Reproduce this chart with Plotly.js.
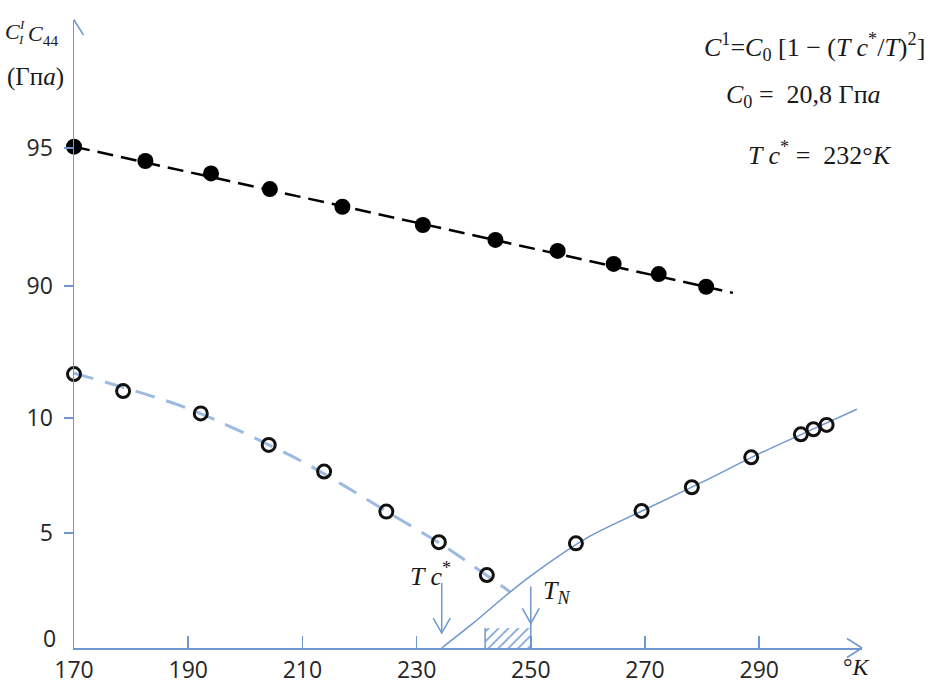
<!DOCTYPE html>
<html><head><meta charset="utf-8">
<script src="https://cdn.plot.ly/plotly-3.0.1.min.js"></script>
<style>html,body{margin:0;padding:0;background:#fff}#chart{width:930px;height:684px}</style>
</head><body><div id="chart"></div>
<script>
// ---------- data ----------
const upperT = [170, 182.5, 194.0, 204.3, 217.0, 231.1, 243.8, 254.7, 264.5, 272.4, 280.7];
const upperC = [95.05, 94.53, 94.08, 93.51, 92.87, 92.21, 91.67, 91.27, 90.80, 90.43, 89.97];
const upperFitT = [170, 285.4];
const upperFitC = [95.05, 89.75];
const lowT = [170, 178.6, 192.2, 204.1, 213.8, 224.7, 233.9, 242.3];
const lowC = [11.91, 11.17, 10.20, 8.83, 7.67, 5.93, 4.60, 3.17];
const lowFitT = [170, 190, 210, 225, 235, 246.3];
const lowFitC = [11.95, 10.41, 8.10, 5.90, 4.40, 2.45];
const highT = [257.9, 269.4, 278.2, 288.6, 297.3, 299.5, 301.8];
const highC = [4.55, 5.96, 6.99, 8.29, 9.29, 9.51, 9.70];
const curveT = [234.4, 240, 246.3, 250, 260, 270, 280, 290, 300, 307.1];
const curveC = [0, 1.1, 2.42, 3.14, 4.81, 6.02, 7.21, 8.45, 9.58, 10.38];
const xTicks = [170, 190, 210, 230, 250, 270, 290];
const yLowTicks = [5, 10];
const yHighTicks = [90, 95];
const tcStarT = 234.4;
const tnT = 250;
const hatchT = [242, 250];
const hatchTop = 0.87;

// ---------- styling / layout ----------
const AX = '#6e98cf';
const TXT = '#1a1a1a';
const SERIF = 'Liberation Serif, DejaVu Serif, serif';
const SANS = 'Open Sans, sans-serif';
const ML = 74, MR = 68, MT = 20, MB = 36, FW = 930, FH = 684;
const PW = FW - ML - MR, PH = FH - MT - MB;
const px = v => (v - ML) / PW;
const py = v => (FH - MB - v) / PH;

const traces = [
  {x: [(hatchT[0] + hatchT[1]) / 2], y: [hatchTop], width: [hatchT[1] - hatchT[0]],
   type: 'bar', xaxis: 'x', yaxis: 'y', hoverinfo: 'skip',
   marker: {color: 'rgba(255,255,255,0)', line: {width: 0},
            pattern: {shape: '/', fgcolor: AX, bgcolor: 'rgba(255,255,255,0)', size: 7, solidity: 0.22, fillmode: 'replace'}}},
  {x: upperFitT, y: upperFitC, yaxis: 'y2', mode: 'lines', cliponaxis: false,
   line: {color: '#000', width: 2.5, dash: '16px,8px'}},
  {x: lowFitT, y: lowFitC, yaxis: 'y', mode: 'lines', cliponaxis: false,
   line: {color: '#9dbae0', width: 3, dash: '20px,12px', shape: 'spline', smoothing: 0.8}},
  {x: curveT, y: curveC, yaxis: 'y', mode: 'lines', cliponaxis: false,
   line: {color: AX, width: 1.5, shape: 'spline', smoothing: 0.8}},
  {x: upperT, y: upperC, yaxis: 'y2', mode: 'markers', cliponaxis: false,
   marker: {color: '#000', size: 16, symbol: 'circle'}},
  {x: lowT, y: lowC, yaxis: 'y', mode: 'markers', cliponaxis: false,
   marker: {color: '#111', size: 13, symbol: 'circle-open', line: {width: 3, color: '#111'}}},
  {x: highT, y: highC, yaxis: 'y', mode: 'markers', cliponaxis: false,
   marker: {color: '#111', size: 13, symbol: 'circle-open', line: {width: 3, color: '#111'}}}
];

const lowDom = [0, 0.4904], highDom = [0.4904, 1];
const lowRange = [0, 13.39], highRange = [88.04, 99.64];
const tickFont = {family: SANS, size: 23, color: '#262626'};

const layout = {
  width: FW, height: FH,
  margin: {l: ML, r: MR, t: MT, b: MB},
  paper_bgcolor: '#fff', plot_bgcolor: '#fff',
  showlegend: false, bargap: 0,
  xaxis: {range: [170, 308], tickvals: xTicks, ticktext: xTicks.map(String),
          ticks: 'inside', ticklen: 12, tickwidth: 1.5, tickcolor: AX,
          showline: true, linecolor: AX, linewidth: 1.5, showgrid: false, zeroline: false,
          tickfont: tickFont, anchor: 'y', ticklabelstandoff: 1},
  yaxis: {domain: lowDom, range: lowRange, tickvals: yLowTicks, ticks: 'outside', ticklen: 9,
          tickwidth: 1.5, tickcolor: AX, showline: true, linecolor: AX, linewidth: 1.5,
          showgrid: false, zeroline: false, tickfont: tickFont, anchor: 'x', ticklabelstandoff: 6},
  yaxis2: {domain: highDom, range: highRange, tickvals: yHighTicks, ticks: 'outside', ticklen: 9,
          tickwidth: 1.5, tickcolor: AX, showline: true, linecolor: AX, linewidth: 1.5,
          showgrid: false, zeroline: false, tickfont: tickFont, anchor: 'x', ticklabelstandoff: 6},
  yaxis3: {overlaying: 'y', range: lowRange, tickvals: yLowTicks, ticks: 'inside', ticklen: 9,
          tickwidth: 1.5, tickcolor: AX, showticklabels: false, showline: false, showgrid: false,
          zeroline: false, anchor: 'x', side: 'left'},
  yaxis4: {overlaying: 'y2', range: highRange, tickvals: yHighTicks, ticks: 'inside', ticklen: 9,
          tickwidth: 1.5, tickcolor: AX, showticklabels: false, showline: false, showgrid: false,
          zeroline: false, anchor: 'x', side: 'left'},
  shapes: [
    {type: 'path', xref: 'x', yref: 'paper', xsizemode: 'pixel', ysizemode: 'pixel', xanchor: 170, yanchor: 1,
     path: 'M-9.5,-15L0,0L9.5,-15', line: {color: AX, width: 1.5}},
    {type: 'path', xref: 'x', yref: 'paper', xsizemode: 'pixel', ysizemode: 'pixel', xanchor: 308, yanchor: 0,
     path: 'M-15,9.5L0,0L-15,-9.5', line: {color: AX, width: 1.5}},
    {type: 'line', xref: 'x', yref: 'y', x0: tcStarT, x1: tcStarT, y0: 0.65, y1: 2.83, line: {color: AX, width: 1.5}},
    {type: 'path', xref: 'x', yref: 'y', xsizemode: 'pixel', ysizemode: 'pixel', xanchor: tcStarT, yanchor: 0.65,
     path: 'M-8.5,15L0,0L8.5,15', line: {color: AX, width: 1.5}},
    {type: 'line', xref: 'x', yref: 'y', x0: tnT, x1: tnT, y0: 0, y1: 2.67, line: {color: AX, width: 1.5}},
    {type: 'path', xref: 'x', yref: 'y', xsizemode: 'pixel', ysizemode: 'pixel', xanchor: tnT, yanchor: 1.07,
     path: 'M-8.5,15L0,0L8.5,15', line: {color: AX, width: 1.5}},
    {type: 'line', xref: 'x', yref: 'y', x0: hatchT[0], x1: hatchT[0], y0: 0, y1: hatchTop, line: {color: AX, width: 1.5}}
  ],
  annotations: [
    {text: '<i>C</i>', x: px(3), y: py(31), xanchor: 'left', yanchor: 'middle', font: {family: SERIF, size: 22, color: TXT}},
    {text: '<i>I</i>', x: px(17), y: py(24), xanchor: 'left', yanchor: 'middle', font: {family: SERIF, size: 13, color: TXT}},
    {text: '<i>I</i>', x: px(16), y: py(39), xanchor: 'left', yanchor: 'middle', font: {family: SERIF, size: 13, color: TXT}},
    {text: '<i>C</i><sub>44</sub>', x: px(26), y: py(35), xanchor: 'left', yanchor: 'middle', font: {family: SERIF, size: 22, color: TXT}},
    {text: '(Гп<i>а</i>)', x: px(5), y: py(77), xanchor: 'left', yanchor: 'middle', font: {family: SERIF, size: 25, color: TXT}},
    {text: '<i>C</i><sup>1</sup>=<i>C</i><sub>0</sub> [1 − (<i>T c</i><sup>*</sup>/<i>T</i>)<sup>2</sup>]', x: px(927), y: py(47), xanchor: 'right', yanchor: 'middle', font: {family: SERIF, size: 26, color: TXT}},
    {text: '<i>C</i><sub>0</sub> =  20,8 Гп<i>а</i>', x: px(803), y: py(96), xanchor: 'center', yanchor: 'middle', font: {family: SERIF, size: 26, color: TXT}},
    {text: '<i>T c</i><sup>*</sup> =  232°<i>K</i>', x: px(820), y: py(154), xanchor: 'center', yanchor: 'middle', font: {family: SERIF, size: 26, color: TXT}},
    {text: '<i>T c</i><sup>*</sup>', x: px(430), y: py(574), xanchor: 'center', yanchor: 'middle', font: {family: SERIF, size: 26, color: TXT}},
    {text: '<i>T</i><sub><i>N</i></sub>', x: px(556), y: py(592), xanchor: 'center', yanchor: 'middle', font: {family: SERIF, size: 26, color: TXT}},
    {text: '°<i>K</i>', x: px(857), y: py(667), xanchor: 'center', yanchor: 'middle', font: {family: SERIF, size: 24, color: TXT}},
    {text: '0', xref: 'x', yref: 'y', x: 170, y: 0, xanchor: 'right', yanchor: 'middle', xshift: -16, yshift: 10, font: tickFont}
  ].map(a => Object.assign({xref: 'paper', yref: 'paper', showarrow: false}, a))
};

Plotly.newPlot('chart', traces, layout, {displayModeBar: false, staticPlot: true});
</script>
</body></html>
